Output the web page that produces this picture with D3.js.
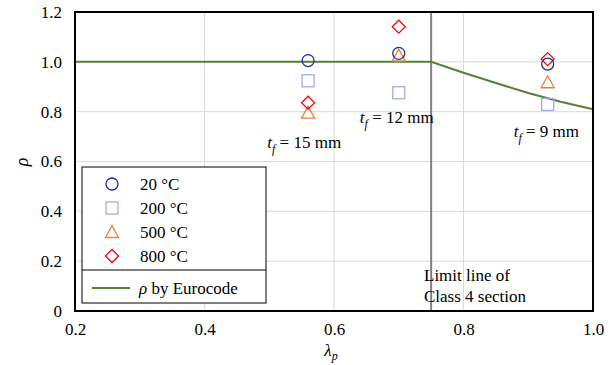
<!DOCTYPE html>
<html><head><meta charset="utf-8">
<script src="https://cdn.jsdelivr.net/npm/d3@7"></script>
<style>body{margin:0;background:#fff;} svg text{font-family:"Liberation Serif","Times New Roman",serif !important;}</style>
</head><body>
<svg id="c" width="615" height="365"></svg>
<script>
const xTicks = [0.2, 0.4, 0.6, 0.8, 1.0];
const yTicks = [0, 0.2, 0.4, 0.6, 0.8, 1.0, 1.2];
const lambdaP = [0.56, 0.70, 0.93];
const s20 = [1.005, 1.034, 0.991];
const s200 = [0.924, 0.876, 0.829];
const s500 = [0.796, 1.025, 0.918];
const s800 = [0.836, 1.141, 1.011];
const euroX = [0.2, 0.75, 0.8, 0.85, 0.9, 0.95, 1.0];
const euroY = [1.0, 1.0, 0.956, 0.915, 0.875, 0.84, 0.81];
const limitX = 0.75;
const tfLabels = [{x:0.554, y:0.654, t:"15"}, {x:0.697, y:0.754, t:"12"}, {x:0.928, y:0.698, t:"9"}];

const svg = d3.select("#c");
const L=75, R=593, T=12, B=311;
const FS = 17;
const x = d3.scaleLinear().domain([0.2,1.0]).range([L,R]);
const y = d3.scaleLinear().domain([0,1.2]).range([B,T]);

// grid
svg.append("g").selectAll("line").data(xTicks.slice(1,-1)).join("line")
  .attr("x1",d=>x(d)).attr("x2",d=>x(d)).attr("y1",T).attr("y2",B)
  .attr("stroke","#d9d9d9").attr("stroke-width",1);
svg.append("g").selectAll("line").data(yTicks.slice(1,-1)).join("line")
  .attr("x1",L).attr("x2",R).attr("y1",d=>y(d)).attr("y2",d=>y(d))
  .attr("stroke","#d9d9d9").attr("stroke-width",1);

// limit line
svg.append("line").attr("x1",x(limitX)).attr("x2",x(limitX)).attr("y1",T).attr("y2",B)
  .attr("stroke","#808080").attr("stroke-width",2);

// eurocode
svg.append("path").datum(euroX.map((d,i)=>[d,euroY[i]]))
  .attr("d", d3.line().x(d=>x(d[0])).y(d=>y(d[1])))
  .attr("fill","none").attr("stroke","#548235").attr("stroke-width",2);

// axes labels
const xa = svg.append("g").attr("transform",`translate(0,${B})`).call(d3.axisBottom(x).tickValues(xTicks).tickFormat(d3.format(".1f")).tickSize(0).tickPadding(12));
xa.attr("font-family","Liberation Serif").attr("font-size",FS);
xa.select(".domain").remove();
xa.selectAll("text").attr("fill","#000");
const ya = svg.append("g").attr("transform",`translate(${L},0)`).call(d3.axisLeft(y).tickValues(yTicks).tickFormat(d=>d===0?"0":d3.format(".1f")(d)).tickSize(0).tickPadding(13));
ya.attr("font-family","Liberation Serif").attr("font-size",FS);
ya.select(".domain").remove();
ya.selectAll("text").attr("fill","#000");

// markers
const g = svg.append("g");
const colors = {c:"#1c2fa0", s:"#a0aaf5", t:"#f07b35", d:"#ff0000"};
function circle(sel,cx,cy){sel.append("circle").attr("cx",cx).attr("cy",cy).attr("r",6).attr("fill","none").attr("stroke",colors.c).attr("stroke-width",1.3);}
function square(sel,cx,cy){sel.append("rect").attr("x",cx-6).attr("y",cy-6).attr("width",12).attr("height",12).attr("fill","none").attr("stroke",colors.s).attr("stroke-width",1.3);}
function tri(sel,cx,cy){sel.append("path").attr("d",`M${cx},${cy-6.5}L${cx+6.5},${cy+5.5}L${cx-6.5},${cy+5.5}Z`).attr("fill","none").attr("stroke",colors.t).attr("stroke-width",1.3);}
function dia(sel,cx,cy){sel.append("path").attr("d",`M${cx},${cy-6.5}L${cx+6.5},${cy}L${cx},${cy+6.5}L${cx-6.5},${cy}Z`).attr("fill","none").attr("stroke",colors.d).attr("stroke-width",1.3);}
lambdaP.forEach((lp,i)=>{
  square(g,x(lp),y(s200[i]));
  tri(g,x(lp),y(s500[i]));
  dia(g,x(lp),y(s800[i]));
  circle(g,x(lp),y(s20[i]));
});

// tf labels
tfLabels.forEach(l=>{
  const t = svg.append("text").attr("x",x(l.x)).attr("y",y(l.y)).attr("text-anchor","middle").attr("font-size",FS).attr("fill","#000");
  t.append("tspan").attr("font-style","italic").text("t");
  t.append("tspan").attr("font-style","italic").attr("font-size",12).attr("dy",5).text("f");
  t.append("tspan").attr("dy",-5).text(" = "+l.t+" mm");
});

// limit text
const lt = svg.append("text").attr("font-size",FS).attr("fill","#000");
lt.append("tspan").attr("x",424).attr("y",281).text("Limit line of");
lt.append("tspan").attr("x",424).attr("y",302).text("Class 4 section");

// frame
svg.append("rect").attr("x",L).attr("y",T).attr("width",R-L).attr("height",B-T).attr("fill","none").attr("stroke","#000").attr("stroke-width",2);

// legend
const lg = svg.append("g");
lg.append("rect").attr("x",82).attr("y",167).attr("width",184).attr("height",136).attr("fill","#fff").attr("stroke","#000").attr("stroke-width",1);
lg.append("line").attr("x1",82).attr("x2",266).attr("y1",270).attr("y2",270).attr("stroke","#000").attr("stroke-width",1);
const legItems = [{f:circle,t:"20 °C",y:184},{f:square,t:"200 °C",y:208},{f:tri,t:"500 °C",y:232},{f:dia,t:"800 °C",y:256}];
legItems.forEach(it=>{
  it.f(lg,112,it.y);
  lg.append("text").attr("x",140).attr("y",it.y+6).attr("font-size",FS).attr("fill","#000").text(it.t);
});
lg.append("line").attr("x1",92).attr("x2",130).attr("y1",288).attr("y2",288).attr("stroke","#548235").attr("stroke-width",2);
const et = lg.append("text").attr("x",139).attr("y",294).attr("font-size",FS).attr("fill","#000");
et.append("tspan").attr("font-style","italic").text("ρ");
et.append("tspan").text(" by Eurocode");

// axis titles
svg.append("text").attr("transform","translate(28,162) rotate(-90)").attr("text-anchor","middle").attr("font-size",18).attr("font-style","italic").attr("fill","#000").text("ρ");
const xt = svg.append("text").attr("x",331).attr("y",356).attr("text-anchor","middle").attr("font-size",17).attr("fill","#000");
xt.append("tspan").attr("font-style","italic").text("λ");
xt.append("tspan").attr("font-style","italic").attr("font-size",12).attr("dy",4).text("p");
</script>
</body></html>
